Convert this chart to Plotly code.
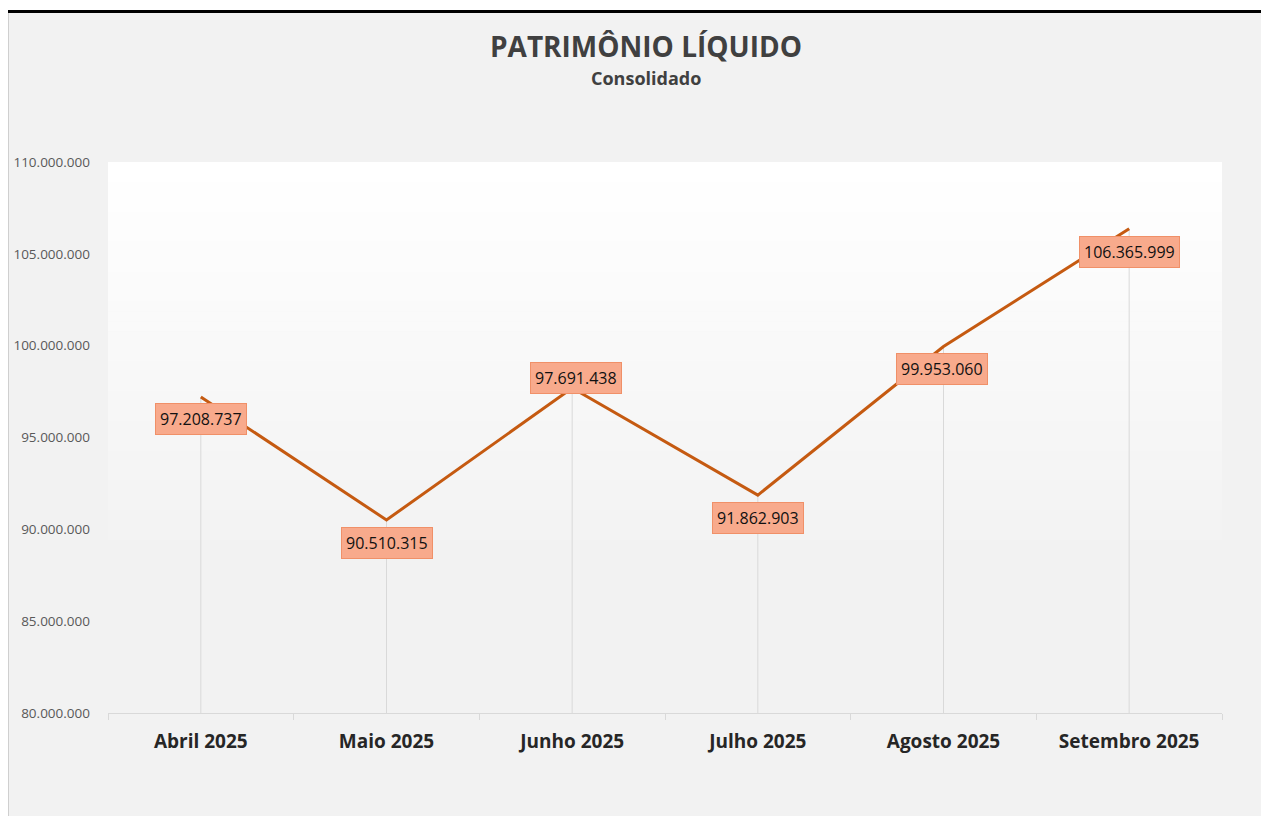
import plotly.graph_objects as go

categories = ["Abril 2025", "Maio 2025", "Junho 2025", "Julho 2025", "Agosto 2025", "Setembro 2025"]
values = [97208737, 90510315, 97691438, 91862903, 99953060, 106365999]
label_texts = ["97.208.737", "90.510.315", "97.691.438", "91.862.903", "99.953.060", "106.365.999"]
label_yshift = [-22, -23, 10, -23, -22, -23]
label_xshift = [0, 0, 4, 0, -2, 0]
y_min, y_max, y_step = 80000000, 110000000, 5000000

OFF = 8  # page body offset
W, H = 1269 - OFF, 816 - OFF
L, R, T, B = 108 - OFF, 1222 - OFF, 162 - OFF, 713 - OFF


def px(x):
    return (x - OFF - L) / (R - L)


def py(y):
    return (B - (y - OFF)) / (B - T)


fig = go.Figure()

# drop lines from each point to the axis
dx, dy = [], []
for c, v in zip(categories, values):
    dx += [c, c, None]
    dy += [v, y_min, None]
fig.add_trace(go.Scatter(x=dx, y=dy, mode="lines",
                         line=dict(color="#d9d9d9", width=1),
                         hoverinfo="skip", showlegend=False))

fig.add_trace(go.Scatter(x=categories, y=values, mode="lines",
                         line=dict(color="#C55A11", width=3),
                         showlegend=False))

shapes = [
    dict(type="rect", xref="paper", yref="paper", x0=px(9), x1=px(1275),
         y0=py(822), y1=py(13), fillcolor="#f2f2f2", line=dict(width=0), layer="below"),
    dict(type="line", xref="paper", yref="paper", x0=px(8.5), x1=px(8.5),
         y0=py(822), y1=py(13), line=dict(color="#cfcfcf", width=1), layer="below"),
    dict(type="line", xref="paper", yref="paper", x0=px(5), x1=px(1275),
         y0=py(11.5), y1=py(11.5), line=dict(color="#000000", width=3), layer="above"),
]
# gradient bands in plot area (white at top to grey)
g_top, g_bot = 162, 560
n = 40
for i in range(n):
    y0 = g_top + (g_bot - g_top) * i / n
    y1 = g_top + (g_bot - g_top) * (i + 1) / n + 0.5
    c = round(255 - 13 * (i + 0.5) / n)
    shapes.append(dict(type="rect", xref="paper", yref="paper", x0=0, x1=1,
                       y0=py(y1), y1=py(y0), fillcolor=f"rgb({c},{c},{c})",
                       line=dict(width=0), layer="below"))

annotations = [
    dict(text="<b>PATRIMÔNIO LÍQUIDO</b>", xref="paper", yref="paper",
         x=px(646), y=py(46), xanchor="center", yanchor="middle", showarrow=False,
         font=dict(family="Open Sans", size=28, color="#404040")),
    dict(text="<b>Consolidado</b>", xref="paper", yref="paper",
         x=px(646), y=py(78), xanchor="center", yanchor="middle", showarrow=False,
         font=dict(family="Open Sans", size=18, color="#404040")),
]
for c, v, t, ys, xs in zip(categories, values, label_texts, label_yshift, label_xshift):
    annotations.append(dict(text=t, x=c, y=v, xref="x", yref="y", showarrow=False,
                            yshift=ys, xshift=xs,
                            bgcolor="#F8AA8C", bordercolor="#F09068", borderwidth=1,
                            borderpad=4,
                            font=dict(family="Open Sans", size=16, color="#111111")))

fig.update_layout(
    width=W, height=H,
    margin=dict(l=L, r=W - R, t=T, b=H - B, pad=0, autoexpand=False),
    paper_bgcolor="#ffffff",
    plot_bgcolor="rgba(0,0,0,0)",
    separators=",.",
    shapes=shapes,
    annotations=annotations,
    showlegend=False,
    xaxis=dict(type="category", categoryorder="array", categoryarray=categories,
               showgrid=False, zeroline=False, showline=True, linecolor="#d9d9d9",
               linewidth=1, ticks="outside", tickson="boundaries", ticklen=6,
               tickcolor="#d9d9d9", tickwidth=1, ticklabelstandoff=11,
               automargin=False,
               tickfont=dict(family="Open Sans", size=19, color="#262626", weight="bold"),
               range=[-0.5, len(categories) - 0.5]),
    yaxis=dict(range=[y_min, y_max], dtick=y_step, tick0=y_min, tickformat=",d",
               showgrid=False, zeroline=False, showline=False, ticks="",
               ticklabelstandoff=17, automargin=False,
               tickfont=dict(family="Open Sans", size=13.5, color="#595959")),
)

fig.write_html("out.html")
